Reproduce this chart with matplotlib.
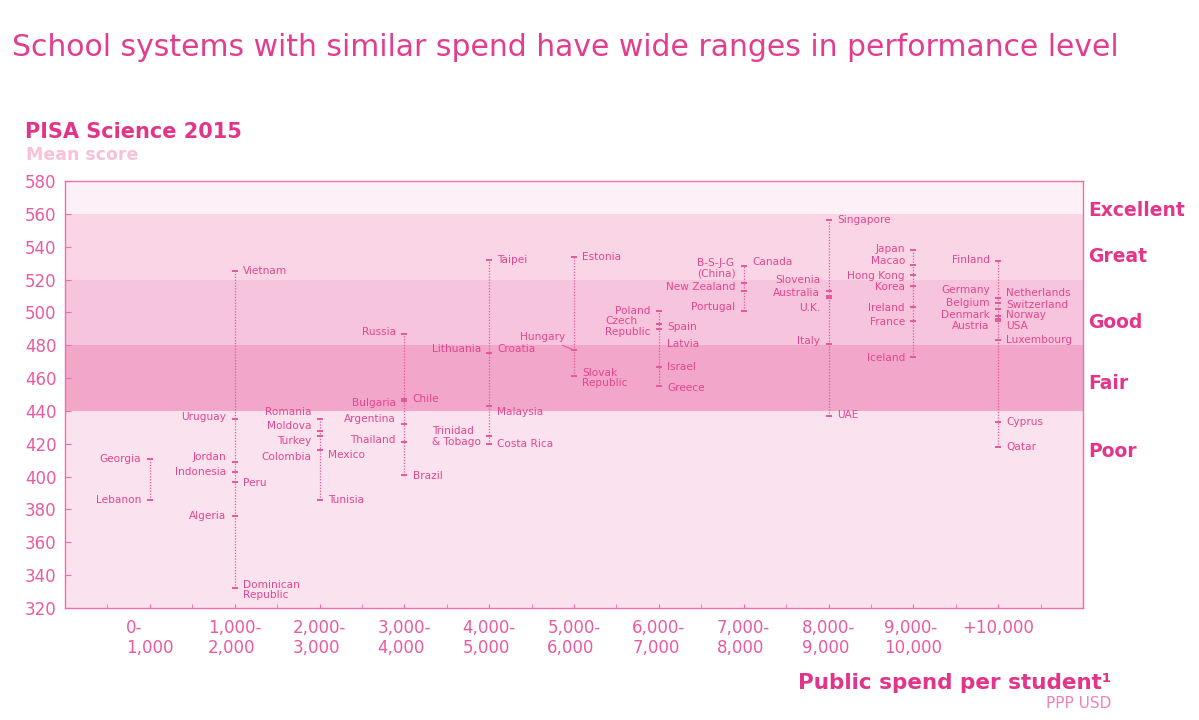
import matplotlib
matplotlib.use("Agg")
import matplotlib.pyplot as plt
from matplotlib.ticker import FixedLocator

plt.rcParams['font.family'] = ['DejaVu Sans']

# ---------------- data ----------------
spend_groups = ["0-\n1,000", "1,000-\n2,000", "2,000-\n3,000", "3,000-\n4,000",
                "4,000-\n5,000", "5,000-\n6,000", "6,000-\n7,000", "7,000-\n8,000",
                "8,000-\n9,000", "9,000-\n10,000", "+10,000"]

countries = [
    "Georgia", "Lebanon",
    "Vietnam", "Uruguay", "Jordan", "Indonesia", "Peru", "Algeria", "Dominican\nRepublic",
    "Romania", "Moldova", "Turkey", "Colombia", "Mexico", "Tunisia",
    "Russia", "Chile", "Bulgaria", "Argentina", "Thailand", "Brazil",
    "Taipei", "Lithuania", "Croatia", "Malaysia", "Trinidad\n& Tobago", "Costa Rica",
    "Estonia", "Hungary", "Slovak\nRepublic",
    "Poland", "Czech\nRepublic", "Spain", "Latvia", "Israel", "Greece",
    "Canada", "B-S-J-G\n(China)", "New Zealand", "Portugal",
    "Singapore", "Slovenia", "Australia", "U.K.", "Italy", "UAE",
    "Japan", "Macao", "Hong Kong", "Korea", "Ireland", "France", "Iceland",
    "Finland", "Germany", "Netherlands", "Switzerland", "Belgium", "Denmark",
    "Norway", "USA", "Austria", "Luxembourg", "Cyprus", "Qatar",
]

scores = [
    411, 386,
    525, 435, 409, 403, 397, 376, 332,
    435, 428, 425, 416, 416, 386,
    487, 447, 446, 432, 421, 401,
    532, 475, 475, 443, 425, 420,
    534, 477, 461,
    501, 493, 493, 490, 467, 455,
    528, 518, 513, 501,
    556, 513, 510, 509, 481, 437,
    538, 529, 523, 516, 503, 495, 473,
    531, 509, 509, 506, 502, 502,
    498, 496, 495, 483, 433, 418,
]

spend_group_index = [
    0, 0,
    1, 1, 1, 1, 1, 1, 1,
    2, 2, 2, 2, 2, 2,
    3, 3, 3, 3, 3, 3,
    4, 4, 4, 4, 4, 4,
    5, 5, 5,
    6, 6, 6, 6, 6, 6,
    7, 7, 7, 7,
    8, 8, 8, 8, 8, 8,
    9, 9, 9, 9, 9, 9, 9,
    10, 10, 10, 10, 10, 10,
    10, 10, 10, 10, 10, 10,
]

performance_levels = ["Excellent", "Great", "Good", "Fair", "Poor"]
level_boundaries = [560, 520, 480, 440]
y_ticks = [320, 340, 360, 380, 400, 420, 440, 460, 480, 500, 520, 540, 560, 580]

# ---------------- layout (label placement) ----------------
right_side = {"Vietnam", "Peru", "Dominican\nRepublic", "Mexico", "Tunisia", "Chile",
              "Brazil", "Taipei", "Croatia", "Malaysia", "Costa Rica", "Estonia",
              "Slovak\nRepublic", "Spain", "Latvia", "Israel", "Greece", "Canada",
              "Singapore", "UAE", "Netherlands", "Switzerland", "Norway", "USA",
              "Luxembourg", "Cyprus", "Qatar"}
label_dy = {  # vertical nudge of label, in score units
    "Uruguay": 1, "Jordan": 2.8, "Peru": -1, "Dominican\nRepublic": -1,
    "Romania": 4.6, "Moldova": 2.6, "Turkey": -3.6, "Colombia": -4, "Mexico": -2.8,
    "Russia": 1.2, "Bulgaria": -1, "Argentina": 3.2, "Thailand": 1.2, "Brazil": -0.8,
    "Lithuania": 2.8, "Croatia": 2.8, "Malaysia": -3.8, "Trinidad\n& Tobago": -0.8,
    "Hungary": 8, "Slovak\nRepublic": -1,
    "Czech\nRepublic": -1.5, "Spain": -1.7, "Latvia": -9, "Greece": -0.8,
    "Canada": 2.5, "B-S-J-G\n(China)": 9, "New Zealand": 2.5, "Portugal": 2.5,
    "Slovenia": 7, "Australia": 1.7, "U.K.": -6.4, "Italy": 1.5, "UAE": 0.5,
    "Japan": 0.8, "Macao": 2.3, "Hong Kong": -0.6, "Korea": -0.7, "Ireland": -0.6,
    "France": -1, "Iceland": -1, "Finland": 0.8,
    "Germany": 4.8, "Belgium": 3.7, "Denmark": -3.4, "Austria": -3,
    "Netherlands": 2.7, "Switzerland": -1.2, "Norway": 0.6, "USA": -4,
}
level_label_y = [562, 534, 494, 457, 415]

PINK = "#e5458f"
TICK_PINK = "#ea5aa0"
LINE_PINK = "#e4589c"

fig = plt.figure(figsize=(11.99, 7.2), dpi=100)
fig.patch.set_facecolor("white")
ax = fig.add_axes([65 / 1199, 1 - 608 / 720, (1083 - 65) / 1199, (608 - 181) / 720])

ax.set_xlim(-1, 11)
ax.set_ylim(320, 580)
ax.set_facecolor("#fbe2ef")

# bands
band_colors = ["#fdf1f7", "#f9d5e6", "#f6c4dc", "#f1a6ca"]
top = 580
for b, c in zip(level_boundaries, band_colors):
    ax.axhspan(b, top, color=c, lw=0, zorder=0)
    top = b

# country range lines and ticks
for g in range(len(spend_groups)):
    vals = [s for s, gi in zip(scores, spend_group_index) if gi == g]
    ax.plot([g, g], [min(vals), max(vals)], color=LINE_PINK, lw=0.9,
            linestyle=(0, (1, 1.3)), zorder=2)
    ax.plot([g] * len(vals), vals, linestyle="none", marker="_", markersize=5,
            mew=1.4, color=LINE_PINK, zorder=3)

for name, s, g in zip(countries, scores, spend_group_index):
    right = name in right_side
    dy = label_dy.get(name, 0)
    kw = dict(fontsize=7.6, color=PINK, va="center", multialignment="left",
              linespacing=1.1, zorder=4)
    if name == "Hungary":
        ax.annotate(name, xy=(g, s), xytext=(g - 0.1, s + dy), textcoords="data",
                    ha="right", arrowprops=dict(arrowstyle="-", color=LINE_PINK, lw=0.8,
                                                shrinkA=1, shrinkB=0), **kw)
        continue
    ax.annotate(name, xy=(g, s + dy), xytext=(6 if right else -6, 0),
                textcoords="offset points", ha="left" if right else "right", **kw)

# axes styling
for sp in ax.spines.values():
    sp.set_color("#ec6fab")
    sp.set_linewidth(1.0)
ax.yaxis.set_major_locator(FixedLocator(y_ticks))
ax.tick_params(axis="y", direction="in", length=4, color="#ec6fab", labelsize=12,
               labelcolor=TICK_PINK, pad=6)
ax.set_xticks(range(len(spend_groups)))
ax.set_xticklabels(spend_groups, multialignment="left", linespacing=1.1)
ax.xaxis.set_minor_locator(FixedLocator([i + 0.5 for i in range(-1, 11)]))
ax.tick_params(axis="x", which="both", direction="in", length=3, color="#ec6fab",
               labelsize=12, labelcolor=TICK_PINK, pad=8)

# level labels on right
for lab, y in zip(performance_levels, level_label_y):
    ax.text(1.0055, y, lab, transform=ax.get_yaxis_transform(), fontsize=13.5,
            fontweight="bold", color="#e4358a", va="center", ha="left")

# titles
fig.text(12 / 1199, 1 - 48 / 720, "School systems with similar spend have wide ranges in performance level",
         fontsize=21.5, color="#e23d8f", va="center", ha="left")
fig.text(25 / 1199, 1 - 132 / 720, "PISA Science 2015", fontsize=15, fontweight="bold",
         color="#e23589", va="center", ha="left")
fig.text(26 / 1199, 1 - 155 / 720, "Mean score", fontsize=12.5, fontweight="bold",
         color="#f6c2da", va="center", ha="left")
fig.text(1111 / 1199, 1 - 683 / 720, "Public spend per student\u00b9", fontsize=15.5,
         fontweight="bold", color="#e23589", va="center", ha="right")
fig.text(1111 / 1199, 1 - 704 / 720, "PPP USD", fontsize=11, color="#ef82b8",
         va="center", ha="right")

fig.savefig("out.png", dpi=100, facecolor="white")
